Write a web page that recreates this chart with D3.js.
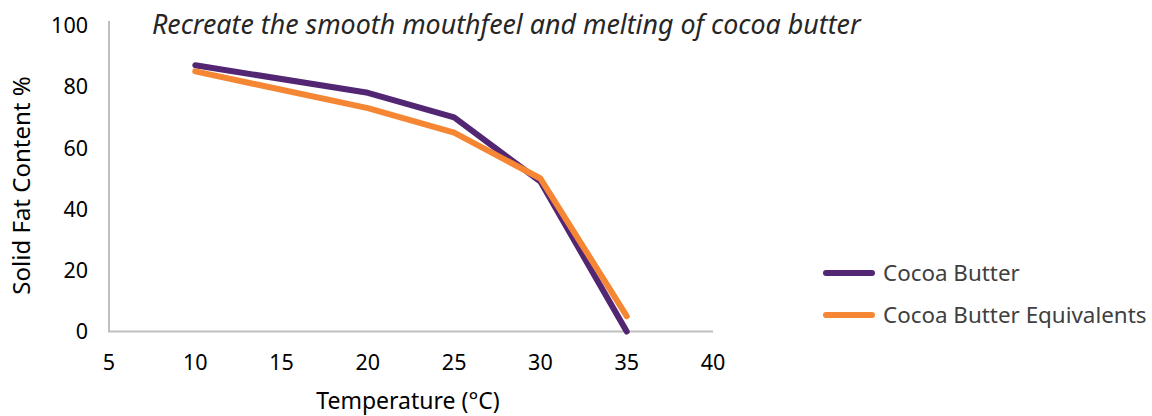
<!DOCTYPE html>
<html><head><meta charset="utf-8">
<script src="https://cdn.jsdelivr.net/npm/d3@7"></script>
<style>body{margin:0;background:#fff}</style>
</head><body>
<svg id="c" width="1152" height="416"></svg>
<script>
const temps = [10, 20, 25, 30, 35];
const cocoaButter = [87, 78, 70, 49, 0];
const cbe = [85, 73, 65, 50, 5];
const seriesNames = ["Cocoa Butter", "Cocoa Butter Equivalents"];
const seriesColors = ["#532673", "#F58634"];
const xTicks = [5, 10, 15, 20, 25, 30, 35, 40];
const yTicks = [0, 20, 40, 60, 80, 100];
const title = "Recreate the smooth mouthfeel and melting of cocoa butter";

const svg = d3.select("#c");
const font = "'Noto Sans', 'Open Sans', sans-serif";
const x = d3.scaleLinear().domain([5, 40]).range([109, 713]);
const y = d3.scaleLinear().domain([0, 100]).range([331.5, 25.5]);

svg.append("line").attr("x1", x(5)).attr("x2", x(5)).attr("y1", 21).attr("y2", y(0))
  .attr("stroke", "#BFBFBF").attr("stroke-width", 2);
svg.append("line").attr("x1", x(5) - 1).attr("x2", x(40)).attr("y1", y(0)).attr("y2", y(0))
  .attr("stroke", "#BFBFBF").attr("stroke-width", 2);

svg.append("g").selectAll("text").data(yTicks).join("text")
  .attr("x", 88).attr("y", d => y(d)).attr("dy", "0.36em")
  .attr("text-anchor", "end").attr("font-family", font).attr("font-size", 21.5)
  .attr("fill", "#000").text(d => d);
svg.append("g").selectAll("text").data(xTicks).join("text")
  .attr("x", d => x(d)).attr("y", 370)
  .attr("text-anchor", "middle").attr("font-family", font).attr("font-size", 21.5)
  .attr("fill", "#000").text(d => d);

svg.append("text").attr("x", 408).attr("y", 409).attr("text-anchor", "middle")
  .attr("font-family", font).attr("font-size", 23).attr("fill", "#000").text("Temperature (°C)");
svg.append("text").attr("transform", "translate(30,185.5) rotate(-90)").attr("text-anchor", "middle")
  .attr("font-family", font).attr("font-size", 24).attr("fill", "#000").text("Solid Fat Content %");

svg.append("text").attr("x", 152).attr("y", 34).attr("font-family", font)
  .attr("font-style", "italic").attr("font-size", 26.8).attr("fill", "#262626").text(title);

const line = d3.line().x((d, i) => x(temps[i])).y(d => y(d));
[cocoaButter, cbe].forEach((s, k) => {
  svg.append("path").datum(s).attr("d", line).attr("fill", "none")
    .attr("stroke", seriesColors[k]).attr("stroke-width", 6)
    .attr("stroke-linecap", "round").attr("stroke-linejoin", "round");
});
seriesNames.forEach((n, k) => {
  const ly = 273 + k * 42;
  svg.append("line").attr("x1", 826).attr("x2", 872).attr("y1", ly).attr("y2", ly)
    .attr("stroke", seriesColors[k]).attr("stroke-width", 6).attr("stroke-linecap", "round");
  svg.append("text").attr("x", 883).attr("y", ly).attr("dy", "0.36em")
    .attr("font-family", font).attr("font-size", 22.4).attr("fill", "#404040").text(n);
});
</script>
</body></html>
